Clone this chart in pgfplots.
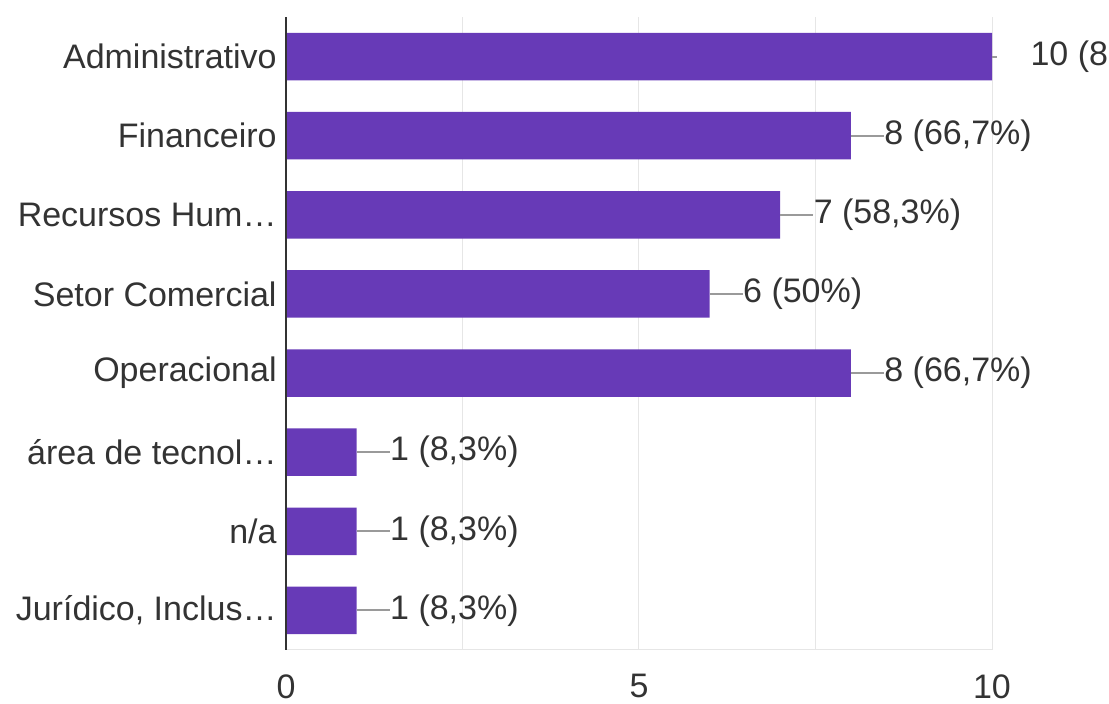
\documentclass[border=0pt]{standalone}
\usepackage{pgfplots}
\pgfplotsset{compat=1.18}
\usepackage{pgfplotstable}
\usepackage{fontspec}
\setmainfont{Liberation Sans}
\definecolor{barc}{HTML}{673AB7}
\definecolor{txt}{HTML}{333333}
\definecolor{gridc}{HTML}{E6E6E6}
\definecolor{conn}{HTML}{9A9A9A}
\pgfplotstableread{
i v e
7 10 0.07
6 8 0.47
5 7 0.47
4 6 0.47
3 8 0.47
2 1 0.47
1 1 0.47
0 1 0.47
}\bars
\pgfplotstableread[col sep=semicolon]{
i;x;t
7;10.54;10 (8
6;8.47;8 (66,7\%)
5;7.47;7 (58,3\%)
4;6.47;6 (50\%)
3;8.47;8 (66,7\%)
2;1.47;1 (8,3\%)
1;1.47;1 (8,3\%)
0;1.47;1 (8,3\%)
}\labs
\begin{document}
\begin{tikzpicture}
\useasboundingbox (-143pt,-27pt) rectangle (411.5pt,325pt);
\begin{axis}[
  at={(0,0)}, anchor=south west,
  scale only axis, width=353pt, height=316.5pt,
  xmin=0, xmax=10, ymin=-0.5, ymax=7.5,
  xtick={0,5,10}, minor xtick={2.5,7.5},
  xmajorgrids, xminorgrids,
  major grid style={draw=gridc, line width=0.5pt},
  minor grid style={draw=gridc, line width=0.5pt},
  ytick={0,...,7},
  yticklabels={{Jurídico, Inclus…}, n/a, {área de tecnol…}, Operacional, {Setor Comercial}, {Recursos Hum…}, Financeiro, Administrativo},
  tick style={draw=none},
  major tick length=0pt, minor tick length=0pt,
  axis line style={draw=none},
  clip=false,
  tick label style={font=\fontsize{17}{20}\selectfont, text=txt},
  /pgf/number format/assume math mode=true,
  xticklabel style={inner sep=0pt, anchor=north, yshift=-12pt},
  yticklabel style={inner sep=0pt, anchor=east, xshift=-4.5pt},
]
\addplot[xbar, bar width=0.6, fill=barc, draw=none,
  error bars/.cd, x dir=plus, x explicit,
  error bar style={conn, line width=1pt}, error mark=none]
  table[x=v, y=i, x error=e] {\bars};
\addplot[draw=none, mark=none, nodes near coords, point meta=explicit symbolic,
  nodes near coords align=horizontal,
  nodes near coords style={anchor=west, inner sep=0pt, text=txt, font=\fontsize{17}{20}\selectfont}]
  table[x=x, y=i, meta=t] {\labs};
\draw[gridc, line width=0.5pt] (axis cs:0,-0.5) -- (axis cs:10,-0.5);
\draw[txt, line width=1pt] (axis cs:0,-0.5) -- (axis cs:0,7.5);
\end{axis}
\end{tikzpicture}
\end{document}
